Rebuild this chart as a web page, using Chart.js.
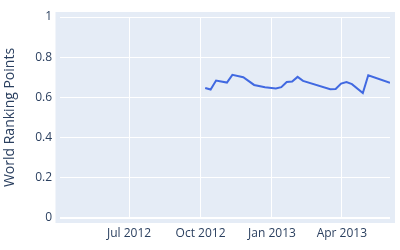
<!DOCTYPE html>
<html>
<head>
<meta charset="utf-8">
<script src="https://cdn.jsdelivr.net/npm/chart.js@4/dist/chart.umd.min.js"></script>
<style>
  html, body { margin: 0; padding: 0; background: #fff; }
  #wrap { width: 400px; height: 250px; }
</style>
</head>
<body>
<div id="wrap"><canvas id="chart"></canvas></div>
<script>
const weeks = [
  "2012-10-07", "2012-10-14", "2012-10-21", "2012-11-04", "2012-11-11",
  "2012-11-25", "2012-12-09", "2012-12-23", "2013-01-06", "2013-01-13",
  "2013-01-20", "2013-01-27", "2013-02-03", "2013-02-10", "2013-03-17",
  "2013-03-24", "2013-03-31", "2013-04-07", "2013-04-14", "2013-04-28",
  "2013-05-05", "2013-06-02"
];
const points = [
  0.647, 0.639, 0.684, 0.674, 0.712,
  0.700, 0.662, 0.651, 0.644, 0.651,
  0.677, 0.679, 0.702, 0.682, 0.641,
  0.642, 0.669, 0.676, 0.666, 0.622,
  0.710, 0.672
];
const xTickDates = ["2012-07-01", "2012-10-01", "2013-01-01", "2013-04-01"];
const yTicks = [0, 0.2, 0.4, 0.6, 0.8, 1];
const months = ["Jan", "Feb", "Mar", "Apr", "May", "Jun", "Jul", "Aug", "Sep", "Oct", "Nov", "Dec"];

const textColor = "#2a3f5f";
const fontFamily = "'Open Sans', 'Noto Sans', sans-serif";

// plotly-like background, slightly larger than the grid area
const plotBg = {
  id: "plotBg",
  beforeDraw(chart) {
    const a = chart.chartArea;
    const ctx = chart.ctx;
    ctx.save();
    ctx.fillStyle = "#e5ecf6";
    ctx.fillRect(a.left - 4.5, a.top - 5, a.right - a.left + 9.5, a.bottom - a.top + 10);
    ctx.restore();
  }
};

new Chart(document.getElementById("chart"), {
  type: "line",
  data: {
    datasets: [{
      data: weeks.map((d, i) => ({ x: Date.parse(d), y: points[i] })),
      borderColor: "#4169e1",
      borderWidth: 2,
      pointRadius: 0,
      tension: 0,
      fill: false
    }]
  },
  plugins: [plotBg],
  options: {
    responsive: true,
    maintainAspectRatio: false,
    animation: false,
    layout: { padding: { top: 17, right: 10, left: 0, bottom: 0 } },
    plugins: {
      legend: { display: false },
      tooltip: { enabled: false }
    },
    scales: {
      x: {
        type: "linear",
        min: Date.parse("2012-04-03"),
        max: Date.parse("2013-06-02"),
        afterBuildTicks: (axis) => {
          axis.ticks = xTickDates.map((d) => ({ value: Date.parse(d) }));
        },
        afterFit: (axis) => { axis.height = 32; },
        border: { display: false },
        grid: { color: "#ffffff", lineWidth: 1, drawTicks: false },
        ticks: {
          color: textColor,
          font: { family: fontFamily, size: 12 },
          padding: 8,
          maxRotation: 0,
          autoSkip: false,
          callback: (v) => {
            const d = new Date(v);
            return months[d.getUTCMonth()] + " " + d.getUTCFullYear();
          }
        }
      },
      y: {
        min: 0,
        max: 1,
        afterBuildTicks: (axis) => {
          axis.ticks = yTicks.map((v) => ({ value: v }));
        },
        afterFit: (axis) => { axis.width = 60; },
        border: { display: false },
        grid: {
          color: "#ffffff",
          lineWidth: (c) => (c.tick && c.tick.value === 0 ? 2 : 1),
          drawTicks: false
        },
        ticks: {
          color: textColor,
          font: { family: fontFamily, size: 12 },
          padding: 8,
          callback: (v) => String(v)
        },
        title: {
          display: true,
          text: "World Ranking Points",
          color: textColor,
          font: { family: fontFamily, size: 14 },
          padding: { top: 2, bottom: 0 }
        }
      }
    }
  }
});
</script>
</body>
</html>
